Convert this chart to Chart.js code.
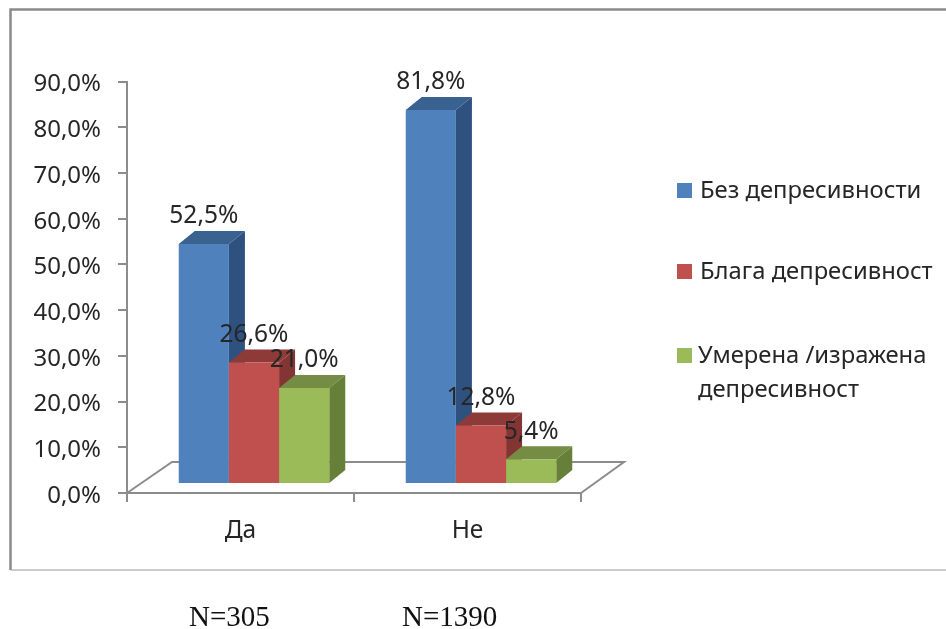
<!DOCTYPE html>
<html><head><meta charset="utf-8">
<style>html,body{margin:0;padding:0;background:#fff}canvas{display:block;filter:blur(0.45px)}</style>
<script src="https://cdn.jsdelivr.net/npm/chart.js@4"></script></head>
<body><canvas id="c" width="946" height="629"></canvas>
<script>
const categories = ['Да', 'Не'];
const seriesBez = [52.5, 81.8];
const seriesBlaga = [26.6, 12.8];
const seriesUmerena = [21.0, 5.4];
const seriesNames = ['Без депресивности', 'Блага депресивност', ['Умерена /изражена', 'депресивност']];
const sampleNotes = ['N=305', 'N=1390'];
const FACE = ['#4F81BD', '#C0504D', '#9BBB59'];
const TOP = ['#3A6291', '#8E3A38', '#748C43'];
const SIDE = ['#2F5180', '#823533', '#66803A'];
const FONT = '"Noto Sans", sans-serif';
const TEXT = '#262626', AXIS = '#8c8c8c';
const fmt = v => v.toFixed(1).replace('.', ',') + '%';
const SHIFT_X = 13.5, SHIFT_Y = -9, DX = 16, DY = 13;

const box3d = {
  id: 'box3d',
  beforeDraw(chart) {
    const c = chart.ctx;
    c.save();
    c.fillStyle = '#fff'; c.fillRect(0, 0, 946, 629);
    c.strokeStyle = '#8a8a8a'; c.lineWidth = 2.5;
    c.beginPath(); c.moveTo(947, 9.5); c.lineTo(10.5, 9.5); c.lineTo(10.5, 570); c.stroke();
    c.lineWidth = 1.2; c.strokeStyle = '#9a9a9a';
    c.beginPath(); c.moveTo(10.5, 570); c.lineTo(947, 570); c.stroke();
    c.restore();
    chart.scales.y.getLabelItems().forEach(it => { it.options.translation[1] += 3; });
  },
  beforeDatasetsDraw(chart) {
    const c = chart.ctx, a = chart.chartArea;
    c.save();
    c.strokeStyle = AXIS; c.lineWidth = 2;
    c.beginPath();
    c.moveTo(a.left, a.bottom); c.lineTo(a.left + 45, a.bottom - 31);
    c.lineTo(a.right + 43, a.bottom - 31); c.lineTo(a.right, a.bottom);
    c.stroke();
    c.restore();
    // series must paint left to right so each front face covers the previous side face
    chart.data.datasets.forEach((d, i) => {
      const meta = chart.getDatasetMeta(i);
      c.save();
      c.translate(SHIFT_X, SHIFT_Y);
      meta.data.forEach(b => {
        const p = b.getProps(['x', 'y', 'base', 'width'], true);
        const l = p.x - p.width / 2, r = p.x + p.width / 2;
        c.fillStyle = TOP[i];
        c.beginPath(); c.moveTo(l, p.y); c.lineTo(l + DX, p.y - DY); c.lineTo(r + DX, p.y - DY); c.lineTo(r, p.y); c.closePath(); c.fill();
        c.fillStyle = SIDE[i];
        c.beginPath(); c.moveTo(r, p.y); c.lineTo(r + DX, p.y - DY); c.lineTo(r + DX, p.base - DY); c.lineTo(r, p.base); c.closePath(); c.fill();
      });
      meta.controller.draw();
      c.restore();
    });
  },
  beforeDatasetDraw() { return false; },
  afterDatasetsDraw(chart) {
    const c = chart.ctx;
    c.save();
    c.font = '24.5px ' + FONT; c.fillStyle = TEXT; c.textAlign = 'center'; c.textBaseline = 'middle';
    chart.data.datasets.forEach((d, i) => {
      chart.getDatasetMeta(i).data.forEach((b, j) => {
        c.fillText(fmt(d.data[j]), b.x + SHIFT_X, b.y + SHIFT_Y - 27.5);
      });
    });
    // legend
    const ys = [191, 272, 356], xs = [700, 700, 698];
    c.textAlign = 'left'; c.font = '23.8px ' + FONT;
    seriesNames.forEach((n, i) => {
      c.fillStyle = FACE[i]; c.fillRect(677, ys[i] - 8, 15, 15);
      c.fillStyle = TEXT;
      [].concat(n).forEach((t, k) => c.fillText(t, xs[i], ys[i] + k * 34));
    });
    // sample sizes
    c.font = '29px "Liberation Serif", serif'; c.fillStyle = '#111'; c.textAlign = 'left';
    c.fillText(sampleNotes[0], 189, 618);
    c.fillText(sampleNotes[1], 402, 618);
    c.restore();
  }
};

new Chart(document.getElementById('c'), {
  type: 'bar',
  plugins: [box3d],
  data: {
    labels: categories,
    datasets: [
      { label: 'Без депресивности', data: seriesBez, backgroundColor: FACE[0] },
      { label: 'Блага депресивност', data: seriesBlaga, backgroundColor: FACE[1] },
      { label: 'Умерена /изражена депресивност', data: seriesUmerena, backgroundColor: FACE[2] }
    ]
  },
  options: {
    responsive: false, animation: false,
    layout: { padding: { left: 0, right: 365, top: 81.5, bottom: 0 } },
    plugins: { legend: { display: false }, tooltip: { enabled: false }, title: { display: false } },
    datasets: { bar: { categoryPercentage: 0.663, barPercentage: 1, borderWidth: 0 } },
    scales: {
      x: {
        afterFit(s) { s.height = 136; },
        border: { color: AXIS, width: 2 },
        grid: { drawOnChartArea: false, color: AXIS, lineWidth: 2, tickLength: 9 },
        ticks: { color: TEXT, font: { family: FONT, size: 24.5 }, padding: 14, maxRotation: 0 }
      },
      y: {
        min: 0, max: 90,
        afterFit(s) { s.width = 127; },
        border: { color: AXIS, width: 2 },
        grid: { drawOnChartArea: false, color: AXIS, lineWidth: 2, tickLength: 9 },
        ticks: { stepSize: 10, color: TEXT, font: { family: FONT, size: 24 }, padding: 17, callback: v => fmt(v) }
      }
    }
  }
});
</script></body></html>
